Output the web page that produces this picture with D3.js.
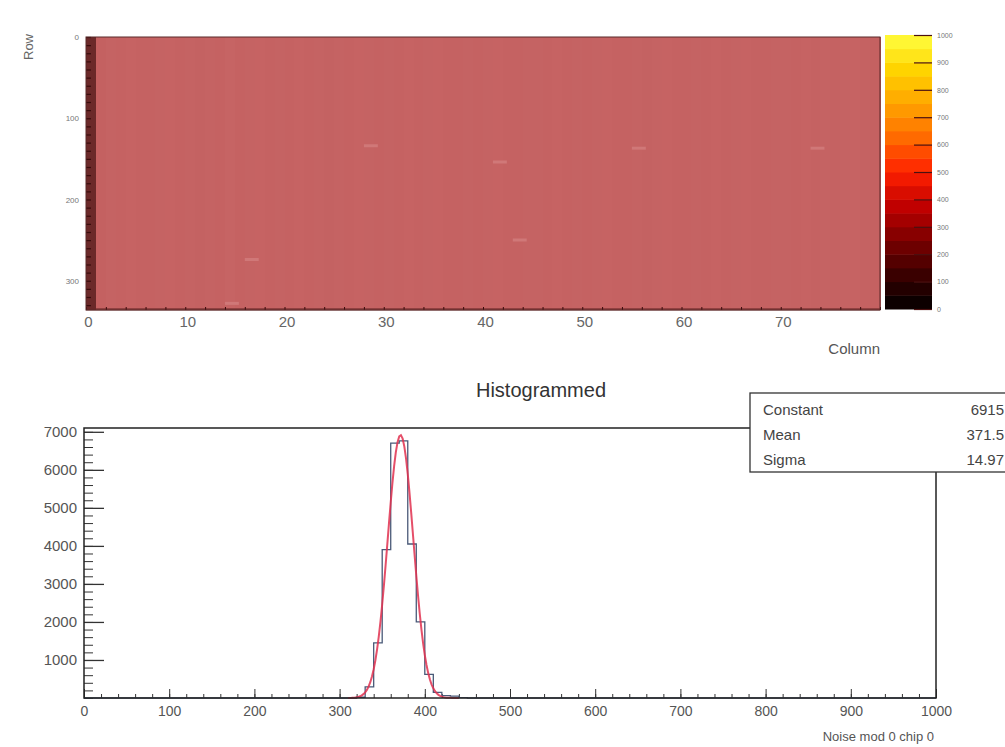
<!DOCTYPE html>
<html>
<head>
<meta charset="utf-8">
<script src="https://cdn.jsdelivr.net/npm/d3@7/dist/d3.min.js"></script>
<style>
  body { margin: 0; background: #fff; }
  svg { display: block; font-family: "Liberation Sans", Arial, sans-serif; }
</style>
</head>
<body>
<svg id="chart" width="1005" height="747"></svg>
<script>
// heatmap: mean noise per column (80 columns x 336 rows)
const columnNoise = [
  300, 366, 371, 369, 373, 370, 368, 372, 374, 369,
  371, 367, 372, 370, 375, 369, 371, 373, 368, 372,
  370, 374, 369, 371, 367, 372, 370, 373, 371, 368,
  372, 370, 374, 369, 371, 373, 368, 370, 372, 369,
  371, 374, 370, 368, 372, 371, 369, 373, 370, 372,
  368, 371, 374, 369, 370, 372, 367, 371, 373, 370,
  369, 372, 370, 374, 368, 371, 373, 369, 370, 372,
  371, 368, 373, 370, 372, 369, 371, 374, 370, 366
]
const edgeRows = [335]
const edgeRowNoise = [300]
// hot pixels [column, row]
const hotPixels = [[28, 132], [41, 152], [55, 135], [73, 135], [43, 248], [16, 272], [14, 326]]
const nRows = 336
const paletteTicks = [0, 100, 200, 300, 400, 500, 600, 700, 800, 900, 1000]
const paletteStops = ['#000000', '#3a0000', '#7a0000', '#c00000', '#ff2000', '#ff6a00', '#ffa500', '#ffd400', '#ffff40']

// histogram: bins of width 10 over 0..1000
const binLow = [320, 330, 340, 350, 360, 370, 380, 390, 400, 410, 420, 430, 440]
const binCounts = [20, 290, 1450, 3900, 6700, 6760, 4050, 2000, 620, 150, 60, 50, 10]
const xTicks = [0, 100, 200, 300, 400, 500, 600, 700, 800, 900, 1000]
const yTicks = [1000, 2000, 3000, 4000, 5000, 6000, 7000]
const fitNames = ['Constant', 'Mean', 'Sigma']
const fitValues = ['6915', '371.5', '14.97']
const fitConstant = 6915, fitMean = 371.5, fitSigma = 14.97

const svg = d3.select('#chart')
const plain = d3.format('d')

/**
 * 上图：像素噪声分布
 */
function drawMap() {
  const x = d3.scaleLinear().domain([0, 80]).range([86, 880])
  const y = d3.scaleLinear().domain([0, nRows]).range([37, 310])
  const heat = d3.scaleLinear().domain([290, 360, 385]).range(['#5c2020', '#c36060', '#c86666']).clamp(true)

  const g = svg.append('g')
  g.append('rect').attr('x', x(0)).attr('y', y(0)).attr('width', x(80) - x(0)).attr('height', y(nRows) - y(0))
    .attr('fill', heat(370))
  g.selectAll('rect.col').data(columnNoise).join('rect')
    .attr('class', 'col')
    .attr('x', (d, i) => x(i))
    .attr('y', y(0))
    .attr('width', x(1) - x(0) + 1)
    .attr('height', y(nRows) - y(0))
    .attr('shape-rendering', 'crispEdges')
    .attr('fill', d => heat(d))

  g.selectAll('rect.edge').data(edgeRows).join('rect')
    .attr('class', 'edge')
    .attr('x', x(0))
    .attr('y', d => y(d) - 1)
    .attr('width', x(80) - x(0))
    .attr('height', d => y(d + 1) - y(d) + 1.5)
    .attr('fill', (d, i) => heat(edgeRowNoise[i]))
    .attr('opacity', 0.7)

  g.selectAll('rect.hot').data(hotPixels).join('rect')
    .attr('class', 'hot')
    .attr('x', d => x(d[0]))
    .attr('y', d => y(d[1]))
    .attr('width', x(1) - x(0) + 4)
    .attr('height', 3)
    .attr('fill', '#d07878')

  // 左侧刻度
  g.append('g').attr('transform', `translate(${x(0)},0)`)
    .call(d3.axisRight(y).tickValues(d3.range(0, nRows, 10)).tickSize(5).tickFormat(''))
    .call(a => a.select('.domain').remove())
    .call(a => a.selectAll('line').attr('stroke', '#3a0c0c').attr('stroke-width', 1.2))
  g.append('g').attr('transform', `translate(${x(0) - 4},0)`)
    .call(d3.axisLeft(y).tickValues([0, 100, 200, 300]).tickSize(0).tickFormat(plain))
    .call(a => a.select('.domain').remove())
    .call(a => a.selectAll('text').attr('fill', '#777').attr('font-size', 8).attr('font-family', 'Liberation Sans'))

  g.append('g').attr('transform', `translate(0,${y(nRows)})`)
    .call(d3.axisTop(x).tickValues(d3.range(0, 81, 2)).tickSize(3).tickFormat(''))
    .call(a => a.select('.domain').remove())
    .call(a => a.selectAll('line').attr('stroke', '#3a0c0c'))
  g.append('g').attr('transform', `translate(2,${y(nRows) + 3})`)
    .call(d3.axisBottom(x).tickValues([0, 10, 20, 30, 40, 50, 60, 70]).tickSize(0))
    .call(a => a.select('.domain').remove())
    .call(a => a.selectAll('text').attr('fill', '#666').attr('font-size', 15).attr('font-family', 'Liberation Sans'))

  g.append('rect').attr('x', x(0)).attr('y', y(0)).attr('width', x(80) - x(0)).attr('height', y(nRows) - y(0))
    .attr('fill', 'none').attr('stroke', '#5a2a2a').attr('stroke-width', 1)

  g.append('text').attr('x', 880).attr('y', 354).attr('text-anchor', 'end')
    .attr('font-size', 15).attr('fill', '#555').text('Column')
  g.append('text').attr('transform', 'translate(33,47) rotate(-90)').attr('text-anchor', 'middle')
    .attr('font-size', 13).attr('fill', '#666').text('Row')

  // 色标
  const cy = d3.scaleLinear().domain([0, 1000]).range([309, 35])
  const pal = d3.scaleLinear().domain(d3.range(paletteStops.length).map(i => i * 1000 / (paletteStops.length - 1)))
    .range(paletteStops)
  const bands = d3.range(0, 1000, 50)
  const cb = svg.append('g')
  cb.selectAll('rect').data(bands).join('rect')
    .attr('x', 885).attr('y', d => cy(d + 50))
    .attr('width', 47).attr('height', d => cy(d) - cy(d + 50) + 0.5)
    .attr('fill', d => pal(d + 25))
  cb.append('g').attr('transform', 'translate(932,0)')
    .call(d3.axisLeft(cy).tickValues(paletteTicks).tickSize(18).tickFormat(''))
    .call(a => a.select('.domain').remove())
    .call(a => a.selectAll('line').attr('stroke', '#4a1010').attr('stroke-width', 1.2))
  cb.append('g').attr('transform', 'translate(934,0)')
    .call(d3.axisRight(cy).tickValues(paletteTicks).tickSize(0).tickFormat(plain))
    .call(a => a.select('.domain').remove())
    .call(a => a.selectAll('text').attr('fill', '#777').attr('font-size', 7).attr('font-family', 'Liberation Sans'))
}

/**
 * 下图：噪声直方图与高斯拟合
 */
function drawHist() {
  const x = d3.scaleLinear().domain([0, 1000]).range([84, 936])
  const y = d3.scaleLinear().domain([0, 7100]).range([698, 428])
  const g = svg.append('g')

  svg.append('text').attr('x', 541).attr('y', 397).attr('text-anchor', 'middle')
    .attr('font-size', 20).attr('fill', '#333').text('Histogrammed')

  // 坐标轴刻度
  g.append('g').attr('transform', `translate(${x(0)},0)`)
    .call(d3.axisRight(y).tickValues(d3.range(0, 7001, 200)).tickSize(9).tickFormat(''))
    .call(a => a.select('.domain').remove())
    .call(a => a.selectAll('line').attr('stroke', '#333'))
  g.append('g').attr('transform', `translate(${x(0)},0)`)
    .call(d3.axisRight(y).tickValues(yTicks).tickSize(20).tickFormat(''))
    .call(a => a.select('.domain').remove())
    .call(a => a.selectAll('line').attr('stroke', '#333').attr('stroke-width', 1.3))
  g.append('g').attr('transform', `translate(${x(0) - 4},0)`)
    .call(d3.axisLeft(y).tickValues(yTicks).tickSize(0).tickFormat(plain))
    .call(a => a.select('.domain').remove())
    .call(a => a.selectAll('text').attr('fill', '#555').attr('font-size', 15).attr('font-family', 'Liberation Sans'))

  g.append('g').attr('transform', `translate(0,${y(0)})`)
    .call(d3.axisTop(x).tickValues(d3.range(0, 1001, 20)).tickSize(4).tickFormat(''))
    .call(a => a.select('.domain').remove())
    .call(a => a.selectAll('line').attr('stroke', '#333'))
  g.append('g').attr('transform', `translate(0,${y(0)})`)
    .call(d3.axisTop(x).tickValues(xTicks).tickSize(9).tickFormat(''))
    .call(a => a.select('.domain').remove())
    .call(a => a.selectAll('line').attr('stroke', '#333'))
  g.append('g').attr('transform', `translate(0,${y(0) + 5})`)
    .call(d3.axisBottom(x).tickValues(xTicks).tickSize(0).tickFormat(plain))
    .call(a => a.select('.domain').remove())
    .call(a => a.selectAll('text').attr('fill', '#555').attr('font-size', 14).attr('font-family', 'Liberation Sans'))

  svg.append('text').attr('x', 934).attr('y', 741).attr('text-anchor', 'end')
    .attr('font-size', 13).attr('fill', '#555').text('Noise mod 0 chip 0')

  // 直方图阶梯线
  const countOf = new Map(binLow.map((b, i) => [b, binCounts[i]]))
  const steps = []
  d3.range(0, 1000, 10).forEach(b => {
    const c = countOf.get(b) || 0
    steps.push([b, c], [b + 10, c])
  })
  g.append('path').datum(steps)
    .attr('fill', 'none').attr('stroke', '#4a5a78').attr('stroke-width', 1.3)
    .attr('d', d3.line().x(d => x(d[0])).y(d => y(d[1])))

  // 拟合曲线
  const fitX = d3.range(310, 441, 2)
  g.append('path').datum(fitX)
    .attr('fill', 'none').attr('stroke', '#e0304f').attr('stroke-width', 2).attr('opacity', 0.85)
    .attr('d', d3.line()
      .x(d => x(d))
      .y(d => y(fitConstant * Math.exp(-0.5 * ((d - fitMean) / fitSigma) ** 2))))

  // 边框
  g.append('rect').attr('x', x(0)).attr('y', y(7100)).attr('width', x(1000) - x(0)).attr('height', y(0) - y(7100))
    .attr('fill', 'none').attr('stroke', '#222').attr('stroke-width', 1.5)

  // 拟合参数框
  const box = svg.append('g').attr('transform', 'translate(750,393)')
  box.append('rect').attr('width', 262).attr('height', 79)
    .attr('fill', '#fff').attr('stroke', '#333').attr('stroke-width', 1.3)
  box.selectAll('text.name').data(fitNames).join('text')
    .attr('class', 'name').attr('x', 13).attr('y', (d, i) => 22 + i * 25)
    .attr('font-size', 15).attr('fill', '#444').text(d => d)
  box.selectAll('text.val').data(fitValues).join('text')
    .attr('class', 'val').attr('x', 254).attr('y', (d, i) => 22 + i * 25).attr('text-anchor', 'end')
    .attr('font-size', 15).attr('fill', '#444').text(d => d)
}

drawMap()
drawHist()
</script>
</body>
</html>
